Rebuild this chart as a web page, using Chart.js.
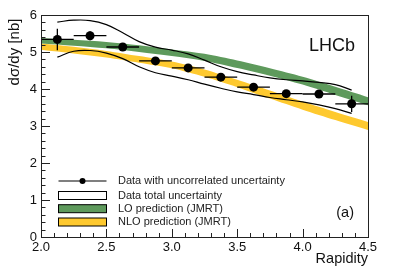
<!DOCTYPE html>
<html>
<head>
<meta charset="utf-8">
<script src="https://cdn.jsdelivr.net/npm/chart.js@4.4.1/dist/chart.umd.min.js"></script>
<style>
  html, body { margin:0; padding:0; background:#fff; }
  #wrap { width:409px; height:277px; }
</style>
</head>
<body>
<div id="wrap"><canvas id="c" width="409" height="277"></canvas></div>
<script>
// measured cross-section vs rapidity
const rapidity = [2.125, 2.375, 2.625, 2.875, 3.125, 3.375, 3.625, 3.875, 4.125, 4.375];
const xsec     = [5.34, 5.44, 5.135, 4.76, 4.57, 4.32, 4.05, 3.875, 3.865, 3.60];
const uncorrErr = [0.29, 0.12, 0.06, 0.05, 0.05, 0.05, 0.05, 0.05, 0.10, 0.22];
const binHalf = 0.125;

// total uncertainty envelope
const totX     = [2.125, 2.25, 2.375, 2.5, 2.625, 2.75, 2.875, 3.0, 3.125, 3.25, 3.375, 3.5, 3.625, 3.75, 3.875, 4.0, 4.125, 4.25, 4.375];
const totUpper = [5.81, 5.86, 5.85, 5.74, 5.52, 5.28, 5.13, 5.05, 4.95, 4.78, 4.60, 4.47, 4.38, 4.30, 4.25, 4.22, 4.18, 4.12, 3.97];
const totLower = [4.86, 5.02, 5.04, 4.97, 4.82, 4.60, 4.44, 4.35, 4.25, 4.13, 4.02, 3.92, 3.85, 3.77, 3.71, 3.65, 3.57, 3.47, 3.34];

// theory bands (JMRT)
const bandX    = [2.0, 2.25, 2.5, 2.75, 3.0, 3.25, 3.5, 3.75, 4.0, 4.25, 4.5];
const loUpper  = [5.38, 5.33, 5.27, 5.18, 5.07, 4.95, 4.77, 4.56, 4.33, 4.06, 3.78];
const loLower  = [5.23, 5.17, 5.10, 5.00, 4.89, 4.76, 4.57, 4.36, 4.12, 3.84, 3.56];
const nloUpper = [5.23, 5.14, 5.03, 4.89, 4.74, 4.53, 4.25, 3.96, 3.66, 3.38, 3.11];
const nloLower = [5.06, 4.96, 4.85, 4.71, 4.56, 4.33, 4.05, 3.74, 3.44, 3.16, 2.89];

const legendLabels = ['Data with uncorrelated uncertainty', 'Data total uncertainty',
                      'LO prediction (JMRT)', 'NLO prediction (JMRT)'];

const GREEN = '#5e9a5c', YELLOW = '#fec92f';
const FONT = '"Liberation Sans", Arial, sans-serif';

const xy = (xs, ys) => xs.map((x, i) => ({ x, y: ys[i] }));

// ROOT-like frame, inward ticks, error bars, legend and labels
const rootStyle = {
  id: 'rootStyle',
  afterDatasetsDraw(chart) {
    const { ctx, chartArea: a, scales: { x, y } } = chart;
    ctx.save();
    // error bars
    ctx.strokeStyle = '#000'; ctx.lineWidth = 1.3;
    rapidity.forEach((r, i) => {
      const px = x.getPixelForValue(r), py = y.getPixelForValue(xsec[i]);
      ctx.beginPath();
      ctx.moveTo(x.getPixelForValue(r - binHalf), py);
      ctx.lineTo(x.getPixelForValue(r + binHalf), py);
      ctx.moveTo(px, y.getPixelForValue(xsec[i] - uncorrErr[i]));
      ctx.lineTo(px, y.getPixelForValue(xsec[i] + uncorrErr[i]));
      ctx.stroke();
    });
    // frame
    ctx.lineWidth = 1; ctx.strokeStyle = '#222';
    ctx.strokeRect(Math.round(a.left) + 0.5, Math.round(a.top) + 0.5,
                   Math.round(a.right - a.left), Math.round(a.bottom - a.top));
    // ticks
    ctx.beginPath();
    for (let k = 0; k <= 30; k++) {
      const v = k * 0.2, py = Math.round(y.getPixelForValue(v)) + 0.5;
      const len = (k % 5 === 0) ? 9 : 4.5;
      ctx.moveTo(a.left, py); ctx.lineTo(a.left + len, py);
    }
    for (let k = 0; k <= 25; k++) {
      const v = 2 + k * 0.1, px = Math.round(x.getPixelForValue(v)) + 0.5;
      const len = (k % 5 === 0) ? 8 : 4;
      ctx.moveTo(px, a.bottom); ctx.lineTo(px, a.bottom - len);
    }
    ctx.stroke();
    ctx.restore();
  },
  afterDraw(chart) {
    const { ctx, chartArea: a } = chart;
    ctx.save();
    ctx.fillStyle = '#111';
    // axis titles
    ctx.font = '14.5px ' + FONT;
    ctx.textAlign = 'right'; ctx.textBaseline = 'middle';
    ctx.fillText('Rapidity', a.right, 259);
    ctx.save();
    ctx.translate(15, 52); ctx.rotate(-Math.PI / 2);
    ctx.textAlign = 'center'; ctx.font = '15px ' + FONT;
    ctx.fillText('dσ/dy [nb]', 0, 0);
    ctx.restore();
    // LHCb and (a)
    ctx.textAlign = 'right';
    ctx.font = '18px ' + FONT;
    ctx.fillText('LHCb', 355, 46);
    ctx.font = '14.5px ' + FONT;
    ctx.fillText('(a)', 354, 213);
    // legend
    const rows = [181, 195.5, 208.7, 222], x0 = 58.5, x1 = 106.5;
    ctx.strokeStyle = '#000'; ctx.lineWidth = 1.2;
    ctx.beginPath(); ctx.moveTo(x0, rows[0]); ctx.lineTo(x1, rows[0]); ctx.stroke();
    ctx.beginPath(); ctx.arc(82.5, rows[0], 3, 0, Math.PI * 2); ctx.fillStyle = '#000'; ctx.fill();
    [['#fff', rows[1]], [GREEN, rows[2]], [YELLOW, rows[3]]].forEach(([col, cy]) => {
      ctx.fillStyle = col;
      ctx.fillRect(x0, cy - 4, x1 - x0, 8);
      ctx.lineWidth = 1;
      ctx.strokeRect(x0, cy - 4, x1 - x0, 8);
    });
    ctx.fillStyle = '#222';
    ctx.font = '11px ' + FONT;
    ctx.textAlign = 'left';
    legendLabels.forEach((t, i) => ctx.fillText(t, 118, rows[i]));
    ctx.restore();
  }
};

const bandLine = { showLine: true, pointRadius: 0, borderWidth: 0, tension: 0.3 };

new Chart(document.getElementById('c'), {
  type: 'scatter',
  data: {
    datasets: [
      { data: xy(rapidity, xsec), pointRadius: 4.5, pointBackgroundColor: '#000', pointBorderWidth: 0 },
      { data: xy(totX, totUpper), showLine: true, pointRadius: 0, borderColor: '#000', borderWidth: 1.2, tension: 0.4, fill: false },
      { data: xy(totX, totLower), showLine: true, pointRadius: 0, borderColor: '#000', borderWidth: 1.2, tension: 0.4, fill: false },
      { ...bandLine, data: xy(bandX, loUpper), borderColor: GREEN, backgroundColor: GREEN, fill: '+1' },
      { ...bandLine, data: xy(bandX, loLower), borderColor: GREEN, fill: false },
      { ...bandLine, data: xy(bandX, nloUpper), borderColor: YELLOW, backgroundColor: YELLOW, fill: '+1' },
      { ...bandLine, data: xy(bandX, nloLower), borderColor: YELLOW, fill: false }
    ]
  },
  options: {
    responsive: false,
    animation: false,
    layout: { padding: { left: 0, top: 15, right: 41, bottom: 0 } },
    plugins: { legend: { display: false }, tooltip: { enabled: false } },
    scales: {
      x: {
        type: 'linear', min: 2, max: 4.5,
        grid: { display: false, drawTicks: false, tickLength: 0 }, border: { display: false },
        ticks: { stepSize: 0.5, color: '#111', padding: 3, font: { family: FONT, size: 13 } },
        afterFit: s => { s.height = 40; }
      },
      y: {
        min: 0, max: 6,
        grid: { display: false, drawTicks: false, tickLength: 0 }, border: { display: false },
        ticks: { stepSize: 1, color: '#111', padding: 4, font: { family: FONT, size: 13 } },
        afterFit: s => { s.width = 41; }
      }
    }
  },
  plugins: [rootStyle]
});
</script>
</body>
</html>
